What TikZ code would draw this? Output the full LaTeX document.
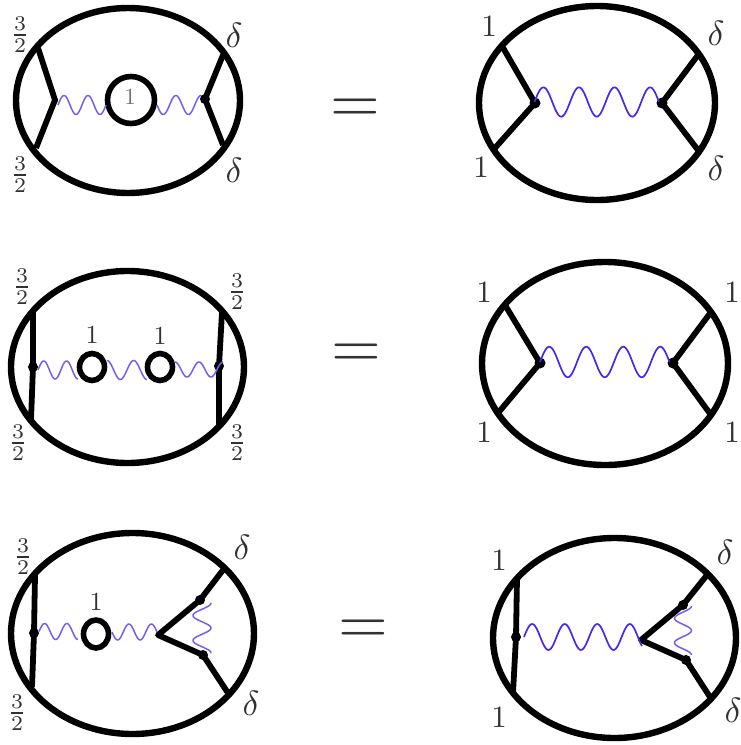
\documentclass[tikz,border=0pt]{standalone}
\usetikzlibrary{calc,shapes.geometric}
\definecolor{wavecol}{RGB}{70,40,240}
\definecolor{labcol}{RGB}{50,50,50}
\tikzset{
  bigloop/.style={ellipse,draw=black,line width=6.4pt,inner sep=0pt},
  smallloop/.style={ellipse,draw=black,line width=5.6pt,inner sep=0pt},
  legline/.style={draw=black,line width=5.8pt,line cap=butt,line join=round},
  vdot/.style={circle,fill=black,inner sep=0pt,outer sep=0pt,minimum size=#1},
  vdot/.default=10pt,
  wavefine/.style={draw=wavecol!75!white,line width=1.5pt,line join=round},
  wavebold/.style={draw=wavecol,line width=1.7pt,line join=round},
  eqsign/.style={text=labcol,scale=6.4,inner sep=0pt},
  fraclab/.style={text=labcol,scale=3,inner sep=0pt},
  onelab/.style={text=labcol,scale=3.1,inner sep=0pt},
  onesmall/.style={text=labcol,scale=2.6,inner sep=0pt},
  onein/.style={text=labcol!70!white,scale=2.3,inner sep=0pt},
  deltalab/.style={text=labcol,scale=3.5,inner sep=0pt},
}
% style, start, end, periods, amplitude (pt), phase (deg)
\newcommand{\wavy}[6]{%
  \draw[#1] let \p1=(#2), \p2=(#3), \n1={veclen(\x2-\x1,\y2-\y1)} in
    plot[variable=\t,domain=0:1,samples=90]
    ({\x1+(\x2-\x1)*\t-(\y2-\y1)/\n1*#5pt*sin(#6+360*#4*\t)},
     {\y1+(\y2-\y1)*\t+(\x2-\x1)/\n1*#5pt*sin(#6+360*#4*\t)});}
\begin{document}
\begin{tikzpicture}[x=1pt,y=-1pt]
\useasboundingbox (0,0) rectangle (741,745);
% ---------- row 1 left
\node[bigloop,minimum width=224pt,minimum height=185pt] (ea) at (128,100.5) {};
\coordinate (atl) at (38,48); \coordinate (abl) at (36,148);
\coordinate (atr) at (223,55); \coordinate (abr) at (223,145);
\node[vdot=6pt] (avl) at (55,100) {};
\node[vdot=10pt] (avr) at (205,99) {};
\draw[legline] (atl) -- (avl.center) -- (abl);
\draw[legline] (atr) -- (avr.center) -- (abr);
\node[smallloop,minimum width=47pt,minimum height=47pt] (al) at (131,100) {};
\coordinate (aw1) at (58,105); \coordinate (aw2) at (106,105);
\coordinate (aw3) at (157,105); \coordinate (aw4) at (201,105);
\wavy{wavefine}{aw1}{aw2}{2}{9.5}{0}
\wavy{wavefine}{aw3}{aw4}{1.75}{9.5}{180}
\node[onein] (a1) at (130,97) {$1$};
\node[fraclab] (af1) at (20,35) {$\frac{3}{2}$};
\node[fraclab] (af2) at (20,175) {$\frac{3}{2}$};
\node[deltalab] (ad1) at (234,35) {$\delta$};
\node[deltalab] (ad2) at (234,170) {$\delta$};
\node[eqsign] (eq1) at (355,110.5) {$=$};
% ---------- row 1 right
\node[bigloop,minimum width=236pt,minimum height=194pt] (eb) at (597,103) {};
\coordinate (btl) at (502,46); \coordinate (bbl) at (495,148);
\coordinate (btr) at (698,55); \coordinate (bbr) at (698,150);
\node[vdot=11pt] (bvl) at (535,103) {};
\node[vdot=11pt] (bvr) at (662,103) {};
\draw[legline] (btl) -- (bvl.center) -- (bbl);
\draw[legline] (btr) -- (bvr.center) -- (bbr);
\coordinate (bw1) at (534.5,102); \coordinate (bw2) at (659,102);
\wavy{wavebold}{bw1}{bw2}{3.5}{14.7}{0}
\node[onelab] (b1) at (489,27) {$1$};
\node[onelab] (b2) at (481,168) {$1$};
\node[deltalab] (bd1) at (716,33) {$\delta$};
\node[deltalab] (bd2) at (716,168) {$\delta$};
% ---------- row 2 left
\node[bigloop,minimum width=233pt,minimum height=192pt] (ec) at (127.5,367) {};
\coordinate (ctl) at (33,310); \coordinate (cbl) at (31,420);
\coordinate (ctr) at (222,312); \coordinate (cbr) at (219,425);
\node[vdot] (cvl) at (33,367) {};
\node[vdot] (cvr) at (219,366) {};
\draw[legline] (ctl) -- (cvl.center) -- (cbl);
\draw[legline] (ctr) -- (cvr.center) -- (cbr);
\node[smallloop,minimum width=25pt,minimum height=27pt] (cl1) at (92,367) {};
\node[smallloop,minimum width=25pt,minimum height=27pt] (cl2) at (160,367) {};
\coordinate (cw1) at (38,370); \coordinate (cw2) at (78,370);
\coordinate (cw3) at (107,370); \coordinate (cw4) at (147,370);
\coordinate (cw5) at (175,369.5); \coordinate (cw6) at (223,369.5);
\wavy{wavefine}{cw1}{cw2}{1.75}{9}{0}
\wavy{wavefine}{cw3}{cw4}{1.5}{9.5}{90}
\wavy{wavefine}{cw5}{cw6}{2}{7.5}{90}
\node[onesmall] (c1) at (92,335) {$1$};
\node[onesmall] (c2) at (160,336) {$1$};
\node[fraclab] (cf1) at (22,287) {$\frac{3}{2}$};
\node[fraclab] (cf2) at (237,292) {$\frac{3}{2}$};
\node[fraclab] (cf3) at (18,443) {$\frac{3}{2}$};
\node[fraclab] (cf4) at (237,443) {$\frac{3}{2}$};
\node[eqsign] (eq2) at (356,355.5) {$=$};
% ---------- row 2 right
\node[bigloop,minimum width=246pt,minimum height=203pt] (ed) at (605,363.5) {};
\coordinate (dtl) at (505,305); \coordinate (dbl) at (498,413);
\coordinate (dtr) at (711,312); \coordinate (dbr) at (711,415);
\node[vdot=11pt] (dvl) at (540,363) {};
\node[vdot=11pt] (dvr) at (673,363) {};
\draw[legline] (dtl) -- (dvl.center) -- (dbl);
\draw[legline] (dtr) -- (dvr.center) -- (dbr);
\coordinate (dw1) at (540,362); \coordinate (dw2) at (669.5,362);
\wavy{wavebold}{dw1}{dw2}{3.5}{15.3}{0}
\node[onelab] (d1) at (484,293) {$1$};
\node[onelab] (d2) at (732,293) {$1$};
\node[onelab] (d3) at (484,433) {$1$};
\node[onelab] (d4) at (732,433) {$1$};
% ---------- row 3 left
\node[bigloop,minimum width=243pt,minimum height=201pt] (ee) at (132.5,633.5) {};
\coordinate (etl) at (35,575); \coordinate (ebl) at (32,687);
\coordinate (ev) at (158,635);
\coordinate (etr) at (223,570); \coordinate (ebr) at (228,693);
\node[vdot] (evl) at (34,633) {};
\node[vdot] (evt) at (200,600) {};
\node[vdot] (evb) at (203,655) {};
\draw[legline] (etl) -- (evl.center) -- (ebl);
\draw[legline] (etr) -- (evt.center) -- (ev) -- (evb.center) -- (ebr);
\node[smallloop,minimum width=25pt,minimum height=28pt] (el) at (96,634) {};
\coordinate (ew1) at (39,631.5); \coordinate (ew2) at (78,631.5);
\coordinate (ew3) at (112,632); \coordinate (ew4) at (157,632);
\coordinate (ew5) at (202,603); \coordinate (ew6) at (202,653);
\wavy{wavefine}{ew1}{ew2}{1.75}{8}{0}
\wavy{wavefine}{ew3}{ew4}{2}{8}{180}
\wavy{wavefine}{ew5}{ew6}{2}{9}{90}
\node[onesmall] (e1) at (96,602) {$1$};
\node[fraclab] (ef1) at (23,557) {$\frac{3}{2}$};
\node[fraclab] (ef2) at (17,713) {$\frac{3}{2}$};
\node[deltalab] (ed1) at (242,547) {$\delta$};
\node[deltalab] (ed2) at (251,703) {$\delta$};
\node[eqsign] (eq3) at (363,632) {$=$};
% ---------- row 3 right
\node[bigloop,minimum width=243pt,minimum height=200pt] (ef) at (614.5,638) {};
\coordinate (ftl) at (517,578); \coordinate (fbl) at (513,693);
\coordinate (fv) at (641,640);
\coordinate (ftr) at (707,575); \coordinate (fbr) at (710,697);
\node[vdot] (fvl) at (516,637) {};
\node[vdot] (fvt) at (683,605) {};
\node[vdot] (fvb) at (686,660) {};
\draw[legline] (ftl) -- (fvl.center) -- (fbl);
\draw[legline] (ftr) -- (fvt.center) -- (fv) -- (fvb.center) -- (fbr);
\coordinate (fw1) at (524,637); \coordinate (fw2) at (642,637);
\coordinate (fw3) at (683,606); \coordinate (fw4) at (683,655);
\wavy{wavebold}{fw1}{fw2}{3.625}{13}{0}
\wavy{wavefine}{fw3}{fw4}{2}{8.5}{90}
\node[onelab] (f1) at (499,561) {$1$};
\node[onelab] (f2) at (499,718) {$1$};
\node[deltalab] (fd1) at (725,552) {$\delta$};
\node[deltalab] (fd2) at (733,710) {$\delta$};
\end{tikzpicture}
\end{document}
